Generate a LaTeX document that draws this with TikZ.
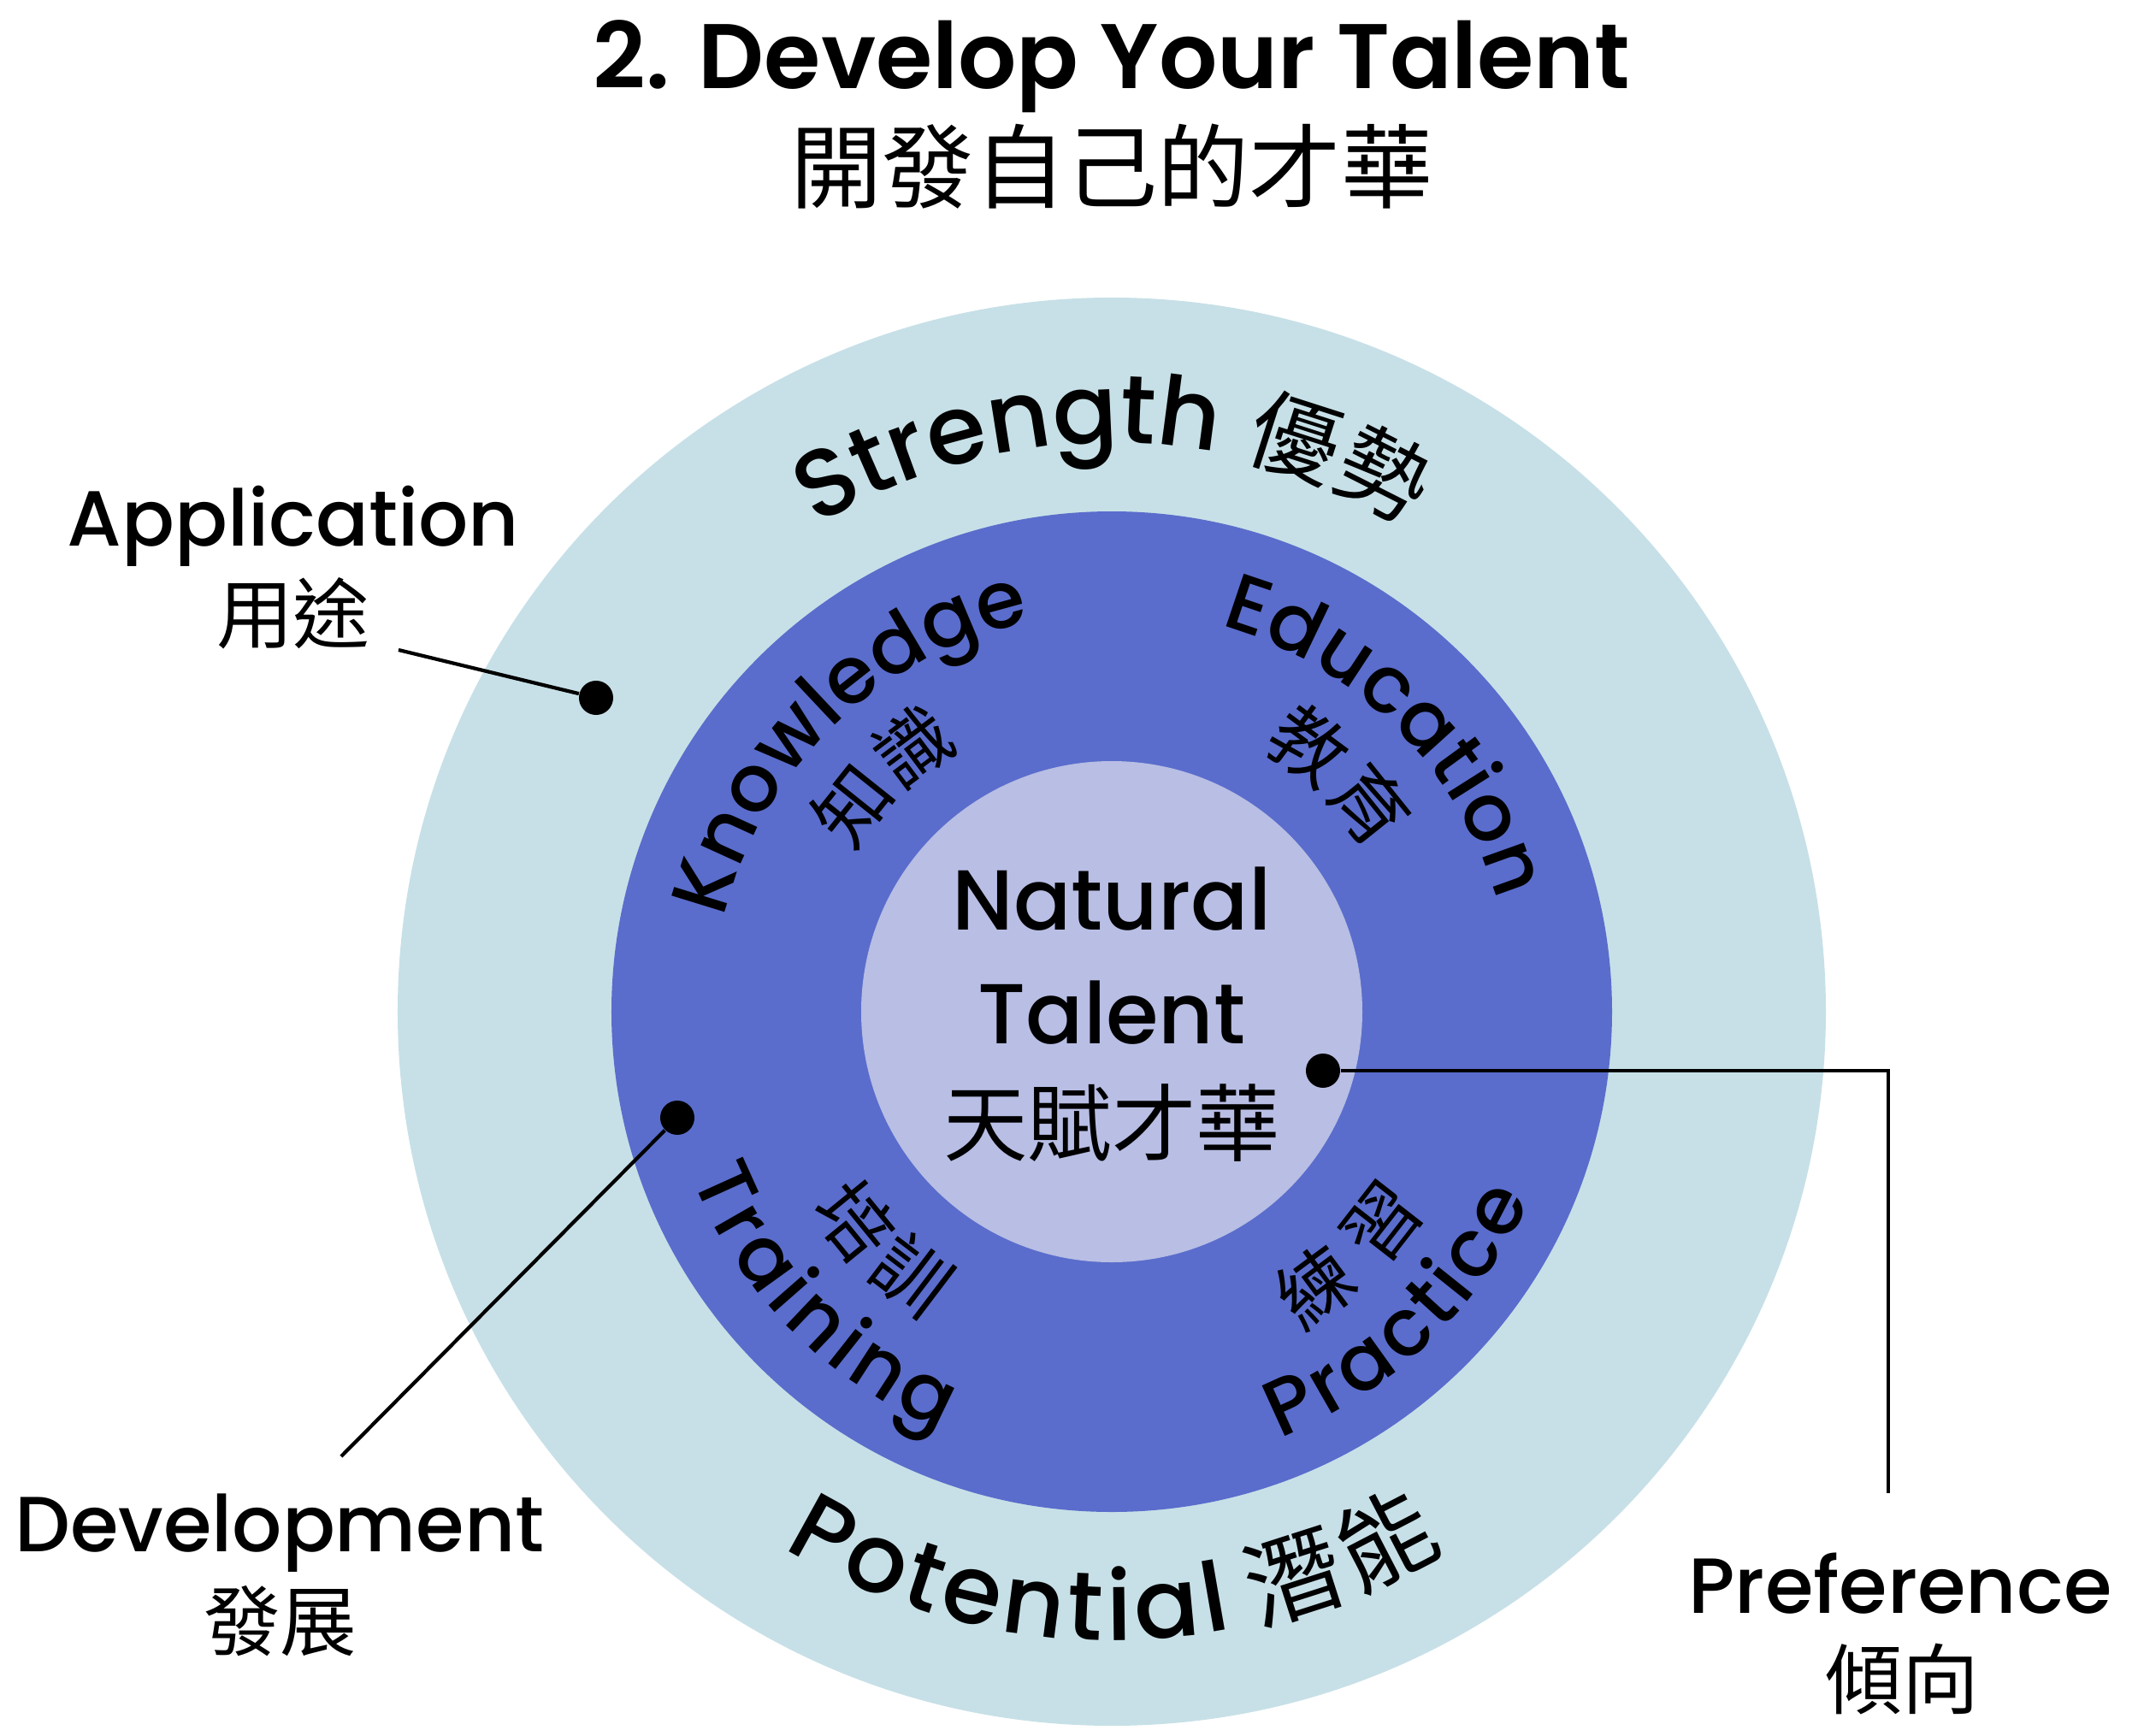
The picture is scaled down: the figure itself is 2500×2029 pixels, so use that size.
\documentclass[tikz,border=0pt]{standalone}
\usepackage{fontspec}
\setmainfont{Poppins}
\newfontfamily\popS{Poppins SemiBold}
\newfontfamily\popM{Poppins Medium}
\newfontfamily\cjk{Noto Sans CJK TC}
\usetikzlibrary{decorations.text}
\definecolor{ringout}{RGB}{199,224,231}
\definecolor{ringmid}{RGB}{90,109,204}
\definecolor{ringin}{RGB}{184,190,228}
\newcommand\fOut{\popM\fontsize{32}{38}\selectfont}
\newcommand\fOutC{\cjk\fontsize{30}{36}\selectfont}
\newcommand\fOutD{\cjk\fontsize{32}{38}\selectfont}
\newcommand\fMid{\popM\fontsize{26.5}{31}\selectfont}
\newcommand\fMidC{\cjk\fontsize{25}{29}\selectfont}
\begin{document}
\begin{tikzpicture}[x=0.01cm,y=0.01cm,
  arctext/.style={decorate, decoration={text along path, text align={fit to path}, text={#1}}},
  arcmid/.style={decorate, decoration={text along path, text align=center, text={#1}}},
  lbl/.style={font=\popM\fontsize{26}{31}\selectfont, anchor=base, inner sep=0pt},
  lblc/.style={font=\cjk\fontsize{25.5}{30}\selectfont, inner sep=0pt},
  lead/.style={line width=1.2pt},
  dotnode/.style={circle, fill=black, minimum size=0.4cm, inner sep=0pt}]
\fill[white] (-1300,-846) rectangle (1200,1183);
\useasboundingbox (-1300,-846) rectangle (1200,1183);
% rings
\fill[ringout] (0,0) circle[radius=835];
\fill[ringmid] (0,0) circle[radius=585];
\fill[ringin] (0,0) circle[radius=293];
% title
\node[font=\popS\fontsize{30.5}{36}\selectfont, anchor=base, inner sep=0pt] (t1) at (0,1079) {2. Develop Your Talent};
\node[font=\cjk\fontsize{30.5}{36}\selectfont, inner sep=0pt] (t2) at (0,988) {開發自己的才華};
% outer ring text
\path[arctext={|\fOut|Strength}] (121.3:665) arc[start angle=121.3, end angle=79.4, radius=665];
\path[arcmid={|\fOutC|優勢}] (80:665) arc[start angle=80, end angle=55.4, radius=665];
\path[arctext={|\fOut|Potential}] (238.5:735) arc[start angle=238.5, end angle=281, radius=735];
\path[arctext={|\fOutD|潛能}] (283.4:737) arc[start angle=283.4, end angle=301.8, radius=737];
% middle ring text
\path[arctext={|\fMid|Knowledge}] (166.5:466) arc[start angle=166.5, end angle=101.8, radius=466];
\path[arctext={|\fMid|Education}] (74.3:469) arc[start angle=74.3, end angle=16, radius=469];
\path[arctext={|\fMid|Training}] (201.5:528) arc[start angle=201.5, end angle=247.8, radius=528];
\path[arctext={|\fMid|Practice}] (291.5:536) arc[start angle=291.5, end angle=335.8, radius=536];
\path[arctext={|\fMidC|知識}] (148.5:354) arc[start angle=148.5, end angle=119.7, radius=354];
\path[arctext={|\fMidC|教育}] (60.6:354) arc[start angle=60.6, end angle=31.6, radius=354];
\path[arctext={|\fMidC|培訓}] (213.2:420) arc[start angle=213.2, end angle=238.8, radius=420];
\path[arctext={|\fMidC|練習}] (300.7:433) arc[start angle=300.7, end angle=327.9, radius=433];
% centre
\node[font=\popM\fontsize{28.3}{34}\selectfont, anchor=base, inner sep=0pt] (nat) at (0,96) {Natural};
\node[font=\popM\fontsize{28.3}{34}\selectfont, anchor=base, inner sep=0pt] (tal) at (0,-37) {Talent};
\node[font=\cjk\fontsize{28}{33}\selectfont, inner sep=0pt] (tf) at (0,-130) {天賦才華};
% labels
\node[lbl] (app) at (-957,545) {Application};
\node[lblc] (appc) at (-957,465.5) {用途};
\node[lbl] (dev) at (-973,-631) {Development};
\node[lblc] (devc) at (-972,-712.5) {發展};
\node[lbl] (pref) at (922,-703) {Preference};
\node[lblc] (prefc) at (924,-780.5) {傾向};
% dots and leaders
\node[dotnode] (dApp) at (-603,367) {};
\node[dotnode] (dDev) at (-508,-124) {};
\node[dotnode] (dPref) at (247,-69) {};
\coordinate (aApp) at (-834,423);
\coordinate (aDev) at (-901,-520);
\coordinate (aPref) at (908,-563);
\draw[lead] (aApp) -- (dApp);
\draw[lead] (aDev) -- (dDev);
\draw[lead] (dPref) -| (aPref);
\end{tikzpicture}
\end{document}
